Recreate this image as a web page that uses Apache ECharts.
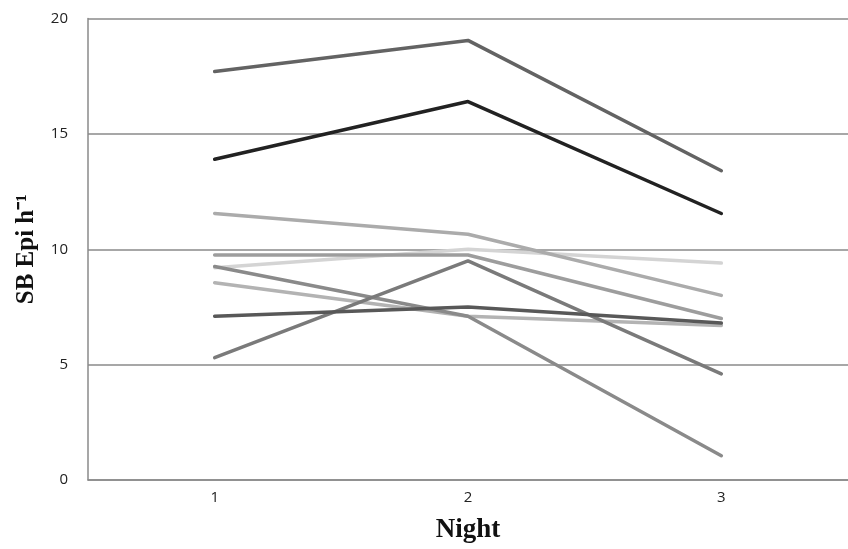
<!DOCTYPE html>
<html><head><meta charset="utf-8">
<script src="https://cdn.jsdelivr.net/npm/echarts@6/dist/echarts.min.js"></script>
<style>html,body{margin:0;padding:0;background:#fff}#c{width:848px;height:549px}</style>
</head><body><div id="c"></div>
<script>
const categories = ['1', '2', '3'];
const s1 = [17.7, 19.05, 13.4];
const s2 = [13.9, 16.4, 11.55];
const s3 = [11.55, 10.65, 8.0];
const s4 = [9.75, 9.75, 7.0];
const s5 = [9.2, 10.0, 9.4];
const s6 = [9.25, 7.1, 1.05];
const s7 = [8.55, 7.1, 6.7];
const s8 = [7.1, 7.5, 6.8];
const s9 = [5.3, 9.5, 4.6];
const seriesData = [s5, s3, s7, s4, s6, s9, s8, s1, s2];
const seriesColors = ['#d4d4d4', '#ababab', '#b3b3b3', '#9d9d9d', '#8a8a8a', '#7a7a7a', '#585858', '#636363', '#222222'];

const chart = echarts.init(document.getElementById('c'));
chart.setOption({
  animation: false,
  grid: {left: 88, right: 0, top: 18.5, bottom: 65},
  xAxis: {
    type: 'category', data: categories, boundaryGap: true,
    name: 'Night', nameLocation: 'middle', nameGap: 37,
    nameTextStyle: {fontFamily: 'Liberation Serif', fontWeight: 'bold', fontSize: 27, color: '#111'},
    axisLine: {lineStyle: {color: '#8a8a8a', width: 1.5}},
    axisTick: {show: false},
    axisLabel: {fontFamily: 'Open Sans', fontSize: 15, color: '#222', margin: 10}
  },
  yAxis: {
    type: 'value', min: 0, max: 20, interval: 5,
    name: 'SB Epi h\u207B\u00B9', nameLocation: 'middle', nameGap: 49,
    nameTextStyle: {fontFamily: 'Liberation Serif', fontWeight: 'bold', fontSize: 25, color: '#111'},
    axisLine: {show: true, lineStyle: {color: '#8a8a8a', width: 1.5}},
    axisTick: {show: false},
    splitLine: {lineStyle: {color: '#8a8a8a', width: 1.5}},
    axisLabel: {fontFamily: 'Open Sans', fontSize: 15, color: '#222', margin: 20}
  },
  series: seriesData.map((d, i) => ({
    type: 'line', data: d, symbol: 'none',
    lineStyle: {color: seriesColors[i], width: 3.5, cap: 'round'},
    itemStyle: {color: seriesColors[i]}
  }))
});
</script></body></html>
